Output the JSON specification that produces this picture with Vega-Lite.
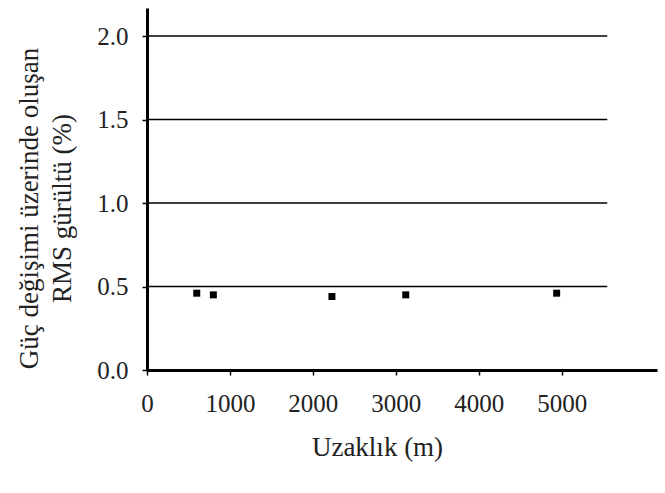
{
  "$schema": "https://vega.github.io/schema/vega-lite/v6.json",
  "width": 510,
  "height": 362,
  "autosize": "none",
  "padding": {"left": 147, "top": 8, "right": 8, "bottom": 123},
  "background": "white",
  "config": {
    "view": {"stroke": null},
    "font": "Liberation Serif",
    "axis": {
      "labelFont": "Liberation Serif",
      "titleFont": "Liberation Serif",
      "labelColor": "#222",
      "titleColor": "#222",
      "titleFontWeight": "normal",
      "domainColor": "black",
      "tickColor": "black",
      "grid": false
    }
  },
  "datasets": {
    "points": [
      {"distance": 600, "noise": 0.46},
      {"distance": 800, "noise": 0.45},
      {"distance": 2230, "noise": 0.44},
      {"distance": 3120, "noise": 0.45},
      {"distance": 4940, "noise": 0.46}
    ],
    "grid": [
      {"level": 0.5},
      {"level": 1.0},
      {"level": 1.5},
      {"level": 2.0}
    ]
  },
  "layer": [
    {
      "data": {"name": "grid"},
      "mark": {"type": "rule", "color": "black", "strokeWidth": 1.5},
      "encoding": {
        "y": {"field": "level", "type": "quantitative", "scale": {"domain": [0, 2.168], "nice": false}},
        "x": {"datum": 0, "type": "quantitative"},
        "x2": {"datum": 5550}
      }
    },
    {
      "data": {"name": "points"},
      "mark": {"type": "square", "color": "black", "filled": true, "opacity": 1, "size": 49},
      "encoding": {
        "x": {
          "field": "distance",
          "type": "quantitative",
          "scale": {"domain": [0, 6150], "nice": false, "zero": true},
          "axis": {
            "values": [0, 1000, 2000, 3000, 4000, 5000],
            "format": "d",
            "title": "Uzaklık (m)",
            "labelFont": "Liberation Serif",
            "titleFont": "Liberation Serif",
            "labelFontSize": 25,
            "titleFontSize": 27,
            "domainWidth": 3,
            "tickSize": 5,
            "tickWidth": 1.5,
            "labelPadding": 16,
            "labelFlush": false,
            "titleX": 230,
            "titleY": 64,
            "titleBaseline": "top"
          }
        },
        "y": {
          "field": "noise",
          "type": "quantitative",
          "scale": {"domain": [0, 2.168], "nice": false},
          "axis": {
            "values": [0, 0.5, 1.0, 1.5, 2.0],
            "format": ".1f",
            "title": ["Güç değişimi üzerinde oluşan", "RMS gürültü (%)"],
            "labelFont": "Liberation Serif",
            "titleFont": "Liberation Serif",
            "labelFontSize": 25,
            "titleFontSize": 27,
            "titleLineHeight": 33,
            "domainWidth": 3,
            "tickSize": 5,
            "tickWidth": 1.5,
            "labelPadding": 14,
            "titleAngle": -90,
            "titleX": -131,
            "titleY": 200,
            "titleAlign": "center",
            "titleBaseline": "top"
          }
        }
      }
    }
  ]
}
